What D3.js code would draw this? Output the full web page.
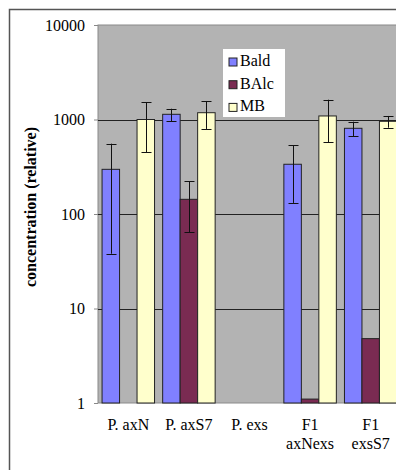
<!DOCTYPE html>
<html>
<head>
<meta charset="utf-8">
<script src="https://cdn.jsdelivr.net/npm/d3@7"></script>
</head>
<body style="margin:0;background:#fff">
<div id="chart"></div>
<script>
// categories and their axis labels (split over lines)
const categories = ["P. axN", "P. axS7", "P. exs", "F1 axNexs", "F1 exsS7"];
const catLabels = [["P. axN"], ["P. axS7"], ["P. exs"], ["F1", "axNexs"], ["F1", "exsS7"]];
const seriesNames = ["Bald", "BAlc", "MB"];

// values, with error bar ends
const baldValues = [297, 1135, null, 336, 807];
const baldHigh = [555, 1300, null, 537, 948];
const baldLow = [38, 964, null, 131, 669];

const balcValues = [null, 143, null, 1.1, 4.8];
const balcHigh = [null, 222, null, null, null];
const balcLow = [null, 64, null, null, null];

const mbValues = [1000, 1180, null, 1090, 957];
const mbHigh = [1520, 1570, null, 1620, 1090];
const mbLow = [450, 794, null, 574, 819];

const yTicks = [1, 10, 100, 1000, 10000];

const colours = {Bald: "#8080ff", BAlc: "#7a2b52", MB: "#ffffcc"};
const series = {
  Bald: {v: baldValues, hi: baldHigh, lo: baldLow},
  BAlc: {v: balcValues, hi: balcHigh, lo: balcLow},
  MB: {v: mbValues, hi: mbHigh, lo: mbLow}
};

const serif = "Liberation Serif";
const width = 396, height = 470;
const plot = {left: 98, right: 401, top: 25, bottom: 403};

const svg = d3.select("#chart").append("svg")
  .attr("width", width)
  .attr("height", height)
  .style("display", "block");

// outer chart frame, cut off on the right and bottom
svg.append("rect")
  .attr("x", 9.5).attr("y", 9.5)
  .attr("width", 420).attr("height", 480)
  .attr("fill", "#fff")
  .attr("stroke", "#555")
  .attr("stroke-width", 1.5);

const x = d3.scaleBand()
  .domain(categories)
  .range([plot.left, plot.right])
  .paddingInner(0.134)
  .paddingOuter(0.067);

const xSub = d3.scaleBand()
  .domain(seriesNames)
  .range([0, x.bandwidth()]);

const y = d3.scaleLog()
  .domain([1, 10000])
  .range([plot.bottom, plot.top]);

// plot background
svg.append("rect")
  .attr("x", plot.left).attr("y", plot.top)
  .attr("width", plot.right - plot.left)
  .attr("height", plot.bottom - plot.top)
  .attr("fill", "#b3b3b3")
  .attr("stroke", "#8a8a8a")
  .attr("stroke-width", 1);

// gridlines
svg.append("g")
  .selectAll("line")
  .data(yTicks.filter(t => t > 1 && t < 10000))
  .join("line")
    .attr("x1", plot.left).attr("x2", plot.right)
    .attr("y1", d => Math.round(y(d)) + 0.5)
    .attr("y2", d => Math.round(y(d)) + 0.5)
    .attr("stroke", "#222")
    .attr("stroke-width", 1);

// y axis
const yAxis = svg.append("g")
  .attr("transform", `translate(${plot.left},0)`)
  .call(d3.axisLeft(y).tickValues(yTicks).tickFormat(d3.format("d")).tickSize(4).tickPadding(9));
yAxis.select(".domain").remove();
yAxis.selectAll(".tick line").attr("stroke", "#888");
yAxis.selectAll("text")
  .attr("fill", "#000")
  .style("font-family", serif)
  .style("font-size", "16px");

// bars
const rows = [];
categories.forEach((c, i) => {
  seriesNames.forEach(s => {
    const v = series[s].v[i];
    if (v != null) rows.push({cat: c, s, v, hi: series[s].hi[i], lo: series[s].lo[i]});
  });
});

svg.append("g")
  .selectAll("rect")
  .data(rows)
  .join("rect")
    .attr("x", d => x(d.cat) + xSub(d.s))
    .attr("y", d => y(d.v))
    .attr("width", xSub.bandwidth())
    .attr("height", d => y(1) - y(d.v))
    .attr("fill", d => colours[d.s])
    .attr("stroke", "#222")
    .attr("stroke-width", 1);

// error bars
const err = svg.append("g")
  .attr("stroke", "#111")
  .attr("stroke-width", 1)
  .selectAll("g")
  .data(rows.filter(d => d.hi != null))
  .join("g")
    .attr("transform", d => `translate(${Math.round(x(d.cat) + xSub(d.s) + xSub.bandwidth() / 2) + 0.5},0)`);
err.append("line")
  .attr("y1", d => y(d.hi)).attr("y2", d => y(d.lo));
err.append("line")
  .attr("x1", -5).attr("x2", 5)
  .attr("y1", d => Math.round(y(d.hi)) + 0.5).attr("y2", d => Math.round(y(d.hi)) + 0.5);
err.append("line")
  .attr("x1", -5).attr("x2", 5)
  .attr("y1", d => Math.round(y(d.lo)) + 0.5).attr("y2", d => Math.round(y(d.lo)) + 0.5);

// category labels
const xl = svg.append("g")
  .selectAll("text")
  .data(categories)
  .join("text")
    .attr("x", d => x(d) + x.bandwidth() / 2)
    .attr("y", 430)
    .attr("text-anchor", "middle")
    .attr("fill", "#000")
    .style("font-family", serif)
    .style("font-size", "16px");
xl.selectAll("tspan")
  .data((d, i) => catLabels[i])
  .join("tspan")
    .attr("x", function() { return this.parentNode.getAttribute("x"); })
    .attr("dy", (d, i) => i === 0 ? 0 : 19)
    .text(d => d);

// axis title
svg.append("text")
  .attr("transform", "translate(36,207) rotate(-90)")
  .attr("text-anchor", "middle")
  .style("font-family", serif)
  .style("font-size", "16px")
  .style("font-weight", "bold")
  .text("concentration (relative)");

// legend
const legend = svg.append("g").attr("transform", "translate(223,49)");
legend.append("rect")
  .attr("width", 62).attr("height", 68)
  .attr("fill", "#fff");
const li = legend.selectAll("g.item")
  .data(seriesNames)
  .join("g")
    .attr("class", "item")
    .attr("transform", (d, i) => `translate(6,${9 + i * 22.7})`);
li.append("rect")
  .attr("width", 8).attr("height", 8)
  .attr("fill", d => colours[d])
  .attr("stroke", "#222");
li.append("text")
  .attr("x", 11).attr("y", 8)
  .style("font-family", serif)
  .style("font-size", "16px")
  .text(d => d);
</script>
</body>
</html>
